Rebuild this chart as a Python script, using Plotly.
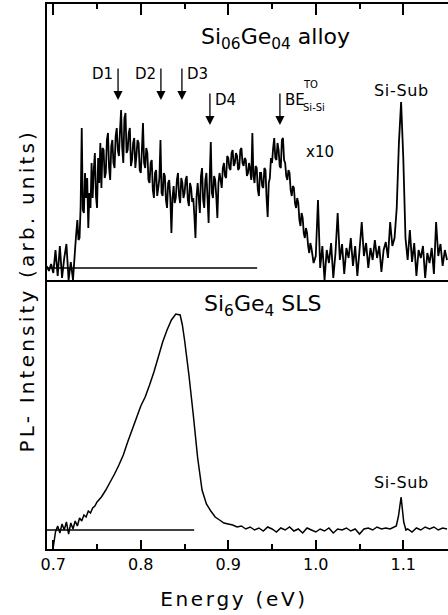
import plotly.graph_objects as go

# ---------------- data ----------------
alloy_energy = [
    0.6925, 0.6950, 0.6975, 0.7000, 0.7025, 0.7050, 0.7075, 0.7100, 0.7125, 0.7150,
    0.7175, 0.7200, 0.7225,
    0.72500, 0.72625, 0.72750, 0.72875, 0.73000, 0.73125, 0.73250, 0.73375,
    0.73500, 0.73625, 0.73750, 0.73875, 0.74000, 0.74125, 0.74250, 0.74375,
    0.74500, 0.74625, 0.74750, 0.74875, 0.75000, 0.75125, 0.75250, 0.75375,
    0.75500, 0.75625, 0.75750, 0.75875, 0.76000, 0.76125, 0.76250, 0.76375,
    0.76500, 0.76625, 0.76750, 0.76875, 0.77000, 0.77125, 0.77250, 0.77375,
    0.77500, 0.77625, 0.77750, 0.77875, 0.78000, 0.78125, 0.78250, 0.78375,
    0.78500, 0.78625, 0.78750, 0.78875, 0.79000, 0.79125, 0.79250, 0.79375,
    0.79500, 0.79625, 0.79750, 0.79875, 0.80000, 0.80125, 0.80250, 0.80375,
    0.80500, 0.80625, 0.80750, 0.80875, 0.81000, 0.81125, 0.81250, 0.81375,
    0.81500, 0.81625, 0.81750, 0.81875, 0.82000, 0.82125, 0.82250, 0.82375,
    0.82500, 0.82625, 0.82750, 0.82875, 0.83000, 0.83125, 0.83250, 0.83375,
    0.83500, 0.83625, 0.83750, 0.83875, 0.84000, 0.84125, 0.84250, 0.84375,
    0.84500, 0.84625, 0.84750, 0.84875, 0.85000, 0.85125, 0.85250, 0.85375,
    0.85500, 0.85625, 0.85750, 0.85875, 0.86000, 0.86125, 0.86250, 0.86375,
    0.86500, 0.86625, 0.86750, 0.86875, 0.87000, 0.87125, 0.87250, 0.87375,
    0.87500, 0.87625, 0.87750, 0.87875, 0.88000, 0.88125, 0.88250, 0.88375,
    0.88500, 0.88625, 0.88750, 0.88875, 0.89000, 0.89125, 0.89250, 0.89375,
    0.89500, 0.89625, 0.89750, 0.89875, 0.90000, 0.90125, 0.90250, 0.90375,
    0.90500, 0.90625, 0.90750, 0.90875, 0.91000, 0.91125, 0.91250, 0.91375,
    0.91500, 0.91625, 0.91750, 0.91875, 0.92000, 0.92125, 0.92250, 0.92375,
    0.92500, 0.92625, 0.92750, 0.92875, 0.93000, 0.93125, 0.93250, 0.93375,
    0.93500, 0.93625, 0.93750, 0.93875, 0.94000, 0.94125, 0.94250, 0.94375,
    0.94500, 0.94625, 0.94750, 0.94875, 0.95000, 0.95125, 0.95250, 0.95375,
    0.95500, 0.95625, 0.95750, 0.95875, 0.96000, 0.96125, 0.96250, 0.96375,
    0.96500, 0.96625, 0.96750, 0.96875, 0.97000, 0.97125, 0.97250, 0.97375,
    0.97500, 0.97625, 0.97750, 0.97875, 0.98000, 0.98125, 0.98250, 0.98375,
    0.98500, 0.98625, 0.98750, 0.98875, 0.99000, 0.99125, 0.99250, 0.99375,
    0.9950, 0.9975, 1.0000, 1.0025, 1.0050, 1.0075, 1.0100, 1.0125, 1.0150,
    1.0175, 1.0200, 1.0225, 1.0250, 1.0275, 1.0300, 1.0325, 1.0350, 1.0375, 1.0400,
    1.0425, 1.0450, 1.0475, 1.0500, 1.0525, 1.0550, 1.0575, 1.0600, 1.0625, 1.0650,
    1.0675, 1.0700, 1.0725, 1.0750, 1.0775, 1.0800, 1.0825, 1.0850, 1.0875, 1.0900,
    1.0925, 1.0950, 1.0975, 1.1000, 1.1025, 1.1050, 1.1075, 1.1100, 1.1125, 1.1150,
    1.1175, 1.1200, 1.1225, 1.1250, 1.1275, 1.1300, 1.1325, 1.1350, 1.1375, 1.1400,
    1.1425, 1.1450, 1.1475, 1.1500,
]
alloy_intensity = [
    2, -3, 4, -5, 18, -8, 22, -10, 10, 24,
    -12, 6, -12,
    20, 35, 48, 28, 30, 62, 140, 58,
    55, 95, 70, 90, 40, 75, 60, 105,
    70, 98, 115, 72, 60, 110, 85, 125,
    80, 120, 118, 90, 95, 128, 135, 100,
    88, 122, 128, 105, 100, 132, 140, 118,
    112, 138, 158, 120, 105, 150, 155, 115,
    118, 135, 140, 102, 108, 125, 130, 100,
    112, 128, 125, 98, 95, 118, 145, 105,
    100, 120, 115, 88, 85, 105, 108, 78,
    70, 95, 98, 72, 80, 90, 128, 75,
    72, 95, 92, 68, 60, 85, 88, 70,
    35, 70, 82, 65, 70, 88, 95, 72,
    65, 90, 85, 70, 75, 88, 92, 68,
    62, 85, 80, 66, 70, 52, 30, 72,
    85, 70, 55, 92, 100, 68, 60, 88,
    95, 70, 45, 90, 126, 75, 70, 92,
    88, 72, 50, 85, 95, 88, 80, 100,
    105, 92, 90, 112, 110, 100, 98, 115,
    118, 102, 105, 115, 112, 98, 100, 118,
    120, 105, 102, 110, 108, 92, 95, 105,
    98, 88, 135, 92, 85, 102, 100, 78,
    72, 95, 95, 82, 80, 100, 98, 70,
    51, 85, 90, 110, 105, 120, 130, 110,
    108, 125, 118, 102, 100, 128, 130, 108,
    105, 92, 88, 98, 95, 78, 72, 82,
    80, 65, 60, 70, 65, 48, 42, 55,
    50, 35, 30, 40, 35, 22, 15, 25,
    20, 5, 12, 68, 0, 22, -12, 18, 5,
    25, -10, 15, 55, 8, 24, -6, 20, 10, 30,
    2, 22, -8, 18, 46, 12, 25, 0, 20, 8,
    28, 10, 22, -4, 18, 26, 10, 46, 22, 30,
    60, 125, 166, 110, 30, 8, 38, 6, 25, -8,
    18, 10, 22, -10, 15, 5, 20, -6, 46, 12,
    24, 2, 18, 8,
]

sls_energy = [
    0.7000, 0.7025, 0.7050, 0.7075, 0.7100, 0.7125, 0.7150, 0.7175, 0.7200, 0.7225,
    0.7250, 0.7275, 0.7300, 0.7325, 0.7350, 0.7375, 0.7400, 0.7425, 0.7450, 0.7475,
    0.7500, 0.7550, 0.7600, 0.7650, 0.7700, 0.7750, 0.7800, 0.7850, 0.7900, 0.7950,
    0.8000, 0.8050, 0.8100, 0.8150, 0.8200, 0.8250, 0.8300, 0.8350, 0.8400, 0.8450,
    0.8475, 0.8500, 0.8550, 0.8600, 0.8650, 0.8700, 0.8750, 0.8800, 0.8850, 0.8900,
    0.8950, 0.9000, 0.9050, 0.9100, 0.9150, 0.9200, 0.9250, 0.9300, 0.9350, 0.9400,
    0.9450, 0.9500, 0.9550, 0.9600, 0.9650, 0.9700, 0.9750, 0.9800, 0.9850, 0.9900,
    0.9950, 1.0000, 1.0050, 1.0100, 1.0150, 1.0200, 1.0250, 1.0300, 1.0350, 1.0400,
    1.0450, 1.0500, 1.0550, 1.0600, 1.0650, 1.0700, 1.0750, 1.0800, 1.0850, 1.0920,
    1.0945, 1.0975, 1.1005, 1.1030, 1.1050, 1.1100, 1.1150, 1.1200, 1.1250, 1.1300,
    1.1350, 1.1400, 1.1450, 1.1500,
]
sls_intensity = [
    -17, -2, 4, -3, 6, 0, 8, -4, 7, 1,
    9, 4, 12, 9, 15, 13, 19, 17, 22, 24,
    28, 33, 40, 48, 56, 65, 75, 88, 100, 112,
    124, 133, 145, 158, 173, 188, 200, 210, 216, 215,
    205, 190, 155, 115, 72, 40, 26, 19, 13, 10,
    7, 6, 5, 3, 4, 1, 3, 0, 2, -1,
    3, 1, -2, 2, 0, 3, -1, 1, -3, 2,
    0, -2, 1, -1, 2, -3, 1, 0, 2, -1,
    1, -4, 1, 2, 0, 3, 1, 2, 1, 4,
    14, 33, 8, 0, 1, -2, 2, 0, 3, 1,
    3, 0, 2, 1,
]

alloy_zero_energy = [0.6928, 0.933]
sls_zero_energy = [0.6928, 0.861]
zero_level = [0, 0]

energy_range = [0.6928, 1.1511]
alloy_y_range = [-14, 264]
sls_y_range = [-19, 248]

tick_values = [0.7, 0.8, 0.9, 1.0, 1.1]
tick_labels = ["0.7", "0.8", "0.9", "1.0", "1.1"]
minor_tick_values = [0.75, 0.85, 0.95, 1.05]

marker_names = ["D1", "D2", "D3", "D4", "BE"]
marker_energy = [0.774, 0.823, 0.847, 0.879, 0.959]
marker_tip = [168, 168, 168, 143, 143]
substrate_energy = 1.0975

# ---------------- figure ----------------
W, H = 448, 615
ML, MR, MT, MB = 47, 0, 4, 66
PW, PH = W - ML - MR, H - MT - MB
split = (549 - 282) / PH


def px(x):
    return (x - ML) / PW


def py(y):
    return (H - MB - y) / PH


FONT = "DejaVu Sans"
fig = go.Figure()

fig.add_trace(go.Scatter(x=alloy_energy, y=alloy_intensity, mode="lines",
                         line=dict(color="black", width=1.8, simplify=False),
                         xaxis="x2", yaxis="y2", showlegend=False))
fig.add_trace(go.Scatter(x=alloy_zero_energy, y=zero_level, mode="lines",
                         line=dict(color="black", width=1.4),
                         xaxis="x2", yaxis="y2", showlegend=False))
fig.add_trace(go.Scatter(x=sls_energy, y=sls_intensity, mode="lines",
                         line=dict(color="black", width=1.5, simplify=False),
                         xaxis="x", yaxis="y", showlegend=False))
fig.add_trace(go.Scatter(x=sls_zero_energy, y=zero_level, mode="lines",
                         line=dict(color="black", width=1.3),
                         xaxis="x", yaxis="y", showlegend=False))

ann = []
# arrows
for e, tip in zip(marker_energy, marker_tip):
    ann.append(dict(x=e, y=tip, xref="x2", yref="y2", text="", showarrow=True,
                    ax=0, ay=-33, arrowhead=2, arrowsize=1.4, arrowwidth=1.3,
                    arrowcolor="black", standoff=0, startstandoff=0))
# marker labels
lab_font = dict(family=FONT, size=15, color="black")
ann.append(dict(x=marker_energy[0], y=194, xref="x2", yref="y2", text=marker_names[0],
                showarrow=False, xanchor="right", yanchor="middle", xshift=-3, font=lab_font))
ann.append(dict(x=marker_energy[1], y=194, xref="x2", yref="y2", text=marker_names[1],
                showarrow=False, xanchor="right", yanchor="middle", xshift=-3, font=lab_font))
ann.append(dict(x=marker_energy[2], y=194, xref="x2", yref="y2", text=marker_names[2],
                showarrow=False, xanchor="left", yanchor="middle", xshift=3, font=lab_font))
ann.append(dict(x=marker_energy[3], y=168, xref="x2", yref="y2", text=marker_names[3],
                showarrow=False, xanchor="left", yanchor="middle", xshift=3, font=lab_font))
ann.append(dict(x=marker_energy[4], y=168, xref="x2", yref="y2", text=marker_names[4],
                showarrow=False, xanchor="left", yanchor="middle", xshift=3, font=lab_font))
ann.append(dict(x=marker_energy[4], y=184, xref="x2", yref="y2", text="TO",
                showarrow=False, xanchor="left", yanchor="middle", xshift=21,
                font=dict(family=FONT, size=10, color="black")))
ann.append(dict(x=marker_energy[4], y=161, xref="x2", yref="y2", text="Si-Si",
                showarrow=False, xanchor="left", yanchor="middle", xshift=21,
                font=dict(family=FONT, size=10, color="black")))
# other labels
ann.append(dict(x=substrate_energy, y=178, xref="x2", yref="y2", text="Si-Sub",
                showarrow=False, xanchor="center", yanchor="middle",
                font=dict(family=FONT, size=16, color="black")))
ann.append(dict(x=1.005, y=116, xref="x2", yref="y2", text="x10",
                showarrow=False, xanchor="center", yanchor="middle",
                font=dict(family=FONT, size=15, color="black")))
ann.append(dict(x=substrate_energy, y=47, xref="x", yref="y", text="Si-Sub",
                showarrow=False, xanchor="center", yanchor="middle",
                font=dict(family=FONT, size=16, color="black")))
# panel titles
ann.append(dict(x=px(199), y=py(38), xref="paper", yref="paper",
                text="Si<sub>06</sub>Ge<sub>04</sub> alloy", showarrow=False,
                xanchor="left", yanchor="middle",
                font=dict(family=FONT, size=22, color="black")))
ann.append(dict(x=px(202), y=py(305), xref="paper", yref="paper",
                text="Si<sub>6</sub>Ge<sub>4</sub> SLS", showarrow=False,
                xanchor="left", yanchor="middle",
                font=dict(family=FONT, size=22, color="black")))
# axis titles
ann.append(dict(x=px(234), y=py(599), xref="paper", yref="paper",
                text="Energy (eV)", showarrow=False, xanchor="center", yanchor="middle",
                font=dict(family=FONT, size=20, color="black")))
ann.append(dict(x=px(27), y=py(291), xref="paper", yref="paper",
                text="PL- Intensity (arb. units)", showarrow=False, textangle=-90,
                xanchor="center", yanchor="middle",
                font=dict(family=FONT, size=20, color="black")))

axis_common = dict(range=energy_range, showgrid=False, zeroline=False,
                   linecolor="black", linewidth=2)

fig.update_layout(
    width=W, height=H,
    margin=dict(l=ML, r=MR, t=MT, b=MB, pad=0),
    paper_bgcolor="white", plot_bgcolor="white",
    font=dict(family=FONT, color="black"),
    showlegend=False,
    xaxis=dict(**axis_common, domain=[0, 1], anchor="y", side="bottom",
               showline=True, mirror=True,
               ticks="inside", ticklen=9, tickwidth=1.5, tickcolor="black",
               tickvals=tick_values, ticktext=tick_labels,
               tickfont=dict(family=FONT, size=16, color="black"),
               minor=dict(tickvals=minor_tick_values, ticks="inside",
                          ticklen=5, tickwidth=1.5, tickcolor="black", showgrid=False)),
    yaxis=dict(domain=[0, split], range=sls_y_range, anchor="x",
               showgrid=False, zeroline=False, showticklabels=False, ticks="",
               showline=True, linecolor="black", linewidth=2),
    xaxis2=dict(**axis_common, domain=[0, 1], anchor="y2", side="top",
                showline=True, mirror=False,
                ticks="inside", ticklen=11, tickwidth=1.5, tickcolor="black",
                tickvals=tick_values, showticklabels=False,
                minor=dict(tickvals=minor_tick_values, ticks="inside",
                           ticklen=5, tickwidth=1.5, tickcolor="black", showgrid=False)),
    yaxis2=dict(domain=[split, 1], range=alloy_y_range, anchor="x2",
                showgrid=False, zeroline=False, showticklabels=False, ticks="",
                showline=True, linecolor="black", linewidth=2),
    annotations=ann,
)

post = """
document.documentElement.style.margin = '0';
document.body.style.margin = '0';
document.body.style.padding = '0';
document.body.style.overflow = 'hidden';
var sp = {'Energy (eV)':'2.7px', 'PL- Intensity (arb. units)':'3.2px',
          'Si06Ge04 alloy':'0.8px', 'Si6Ge4 SLS':'0.8px', 'Si-Sub':'0.7px'};
document.querySelectorAll('text').forEach(function(t){
  var k = t.textContent;
  if (sp[k]) { t.style.letterSpacing = sp[k]; }
});
"""

fig.write_html("out.html", post_script=post, config={"displayModeBar": False})
